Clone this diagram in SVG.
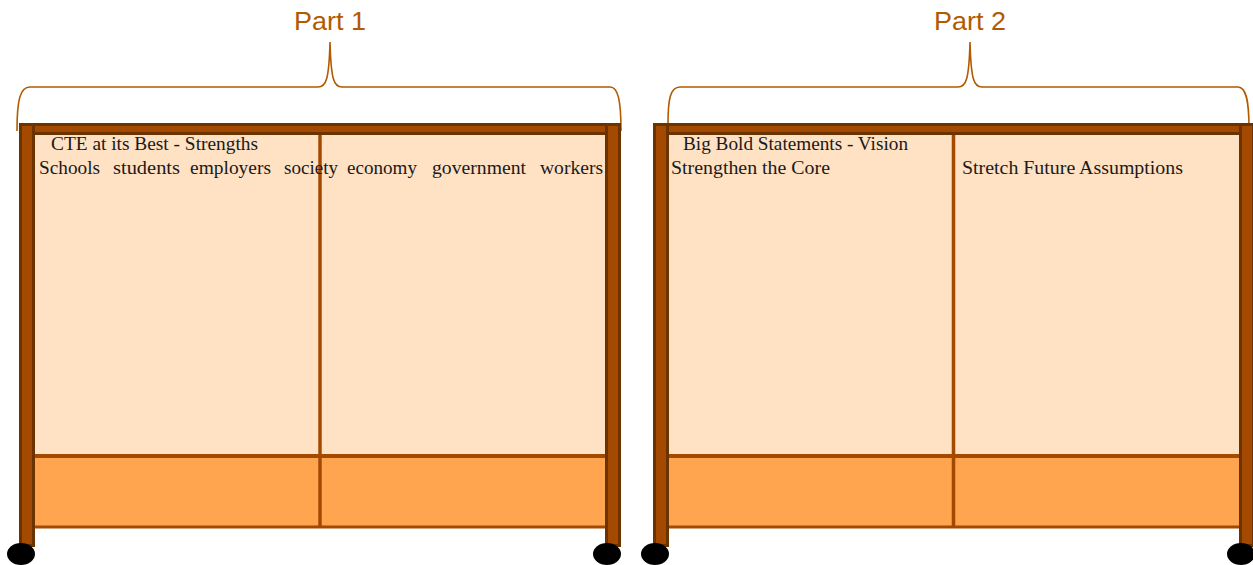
<svg xmlns="http://www.w3.org/2000/svg" width="1253" height="565" viewBox="0 0 1253 565">
<style>
.light{fill:#FFE1C4}
.orange{fill:#FFA550}
.div{stroke:#A34A00;fill:none}
.bar{fill:#A34A00;stroke:#6B3300;stroke-width:3}
.wheel{fill:#000}
.brace{fill:none;stroke:#B35A00;stroke-width:1.6}
.part{font-family:"Liberation Sans",Arial,sans-serif;font-size:26px;fill:#B35A00;text-anchor:middle}
.t{font-family:"Liberation Serif","Times New Roman",serif;font-size:19px;fill:#1A1A1A}
</style>
<rect width="1253" height="565" fill="#fff"/>
<g id="brace1">
<path class="brace" d="M17,131 C17,100 20,87 30,87 L318,87 C326,87 329,80 330,42 C331,80 334,87 342,87 L610,87 C618,87 621,100 621,131"/>
<text class="part" x="330" y="30" textLength="72" lengthAdjust="spacingAndGlyphs">Part 1</text>
</g>
<g id="brace2">
<path class="brace" d="M668,124 C668,100 670,87 680,87 L958,87 C966,87 969,80 970,42 C971,80 974,87 982,87 L1238,87 C1246,87 1249,100 1249,128"/>
<text class="part" x="970" y="30" textLength="72" lengthAdjust="spacingAndGlyphs">Part 2</text>
</g>
<g id="board1">
<rect class="light" x="35" y="135" width="571" height="321"/>
<rect class="orange" x="35" y="456" width="571" height="71"/>
<line class="div" x1="35" y1="456" x2="606" y2="456" stroke-width="4"/>
<line class="div" x1="35" y1="527" x2="606" y2="527" stroke-width="3"/>
<line class="div" x1="320" y1="135" x2="320" y2="527" stroke-width="3.5"/>
<rect class="bar" x="20.5" y="124.5" width="599" height="9"/>
<rect class="bar" x="20.5" y="124.5" width="13" height="421"/>
<rect class="bar" x="606.5" y="124.5" width="13" height="421"/>
<ellipse class="wheel" cx="21" cy="554" rx="14" ry="11"/>
<ellipse class="wheel" cx="607" cy="554" rx="14" ry="11"/>
</g>
<g id="board2">
<rect class="light" x="669" y="135" width="571" height="321"/>
<rect class="orange" x="669" y="456" width="571" height="71"/>
<line class="div" x1="669" y1="456" x2="1240" y2="456" stroke-width="4"/>
<line class="div" x1="669" y1="527" x2="1240" y2="527" stroke-width="3"/>
<line class="div" x1="953.5" y1="135" x2="953.5" y2="527" stroke-width="3.5"/>
<rect class="bar" x="654.5" y="124.5" width="600" height="9"/>
<rect class="bar" x="654.5" y="124.5" width="13" height="421"/>
<rect class="bar" x="1240.5" y="124.5" width="13" height="421"/>
<ellipse class="wheel" cx="655" cy="554" rx="14" ry="11"/>
<ellipse class="wheel" cx="1241" cy="554" rx="14" ry="11"/>
</g>
<g id="labels1">
<text class="t" x="51" y="150" textLength="207" lengthAdjust="spacingAndGlyphs">CTE at its Best - Strengths</text>
<text class="t" x="39" y="174" textLength="61" lengthAdjust="spacingAndGlyphs">Schools</text>
<text class="t" x="113" y="174" textLength="67" lengthAdjust="spacingAndGlyphs">students</text>
<text class="t" x="190" y="174" textLength="81" lengthAdjust="spacingAndGlyphs">employers</text>
<text class="t" x="284" y="174" textLength="54" lengthAdjust="spacingAndGlyphs">society</text>
<text class="t" x="347" y="174" textLength="70" lengthAdjust="spacingAndGlyphs">economy</text>
<text class="t" x="432" y="174" textLength="94" lengthAdjust="spacingAndGlyphs">government</text>
<text class="t" x="540" y="174" textLength="63" lengthAdjust="spacingAndGlyphs">workers</text>
</g>
<g id="labels2">
<text class="t" x="683" y="150" textLength="225" lengthAdjust="spacingAndGlyphs">Big Bold Statements - Vision</text>
<text class="t" x="671" y="174" textLength="159" lengthAdjust="spacingAndGlyphs">Strengthen the Core</text>
<text class="t" x="962" y="174" textLength="221" lengthAdjust="spacingAndGlyphs">Stretch Future Assumptions</text>
</g>
</svg>
